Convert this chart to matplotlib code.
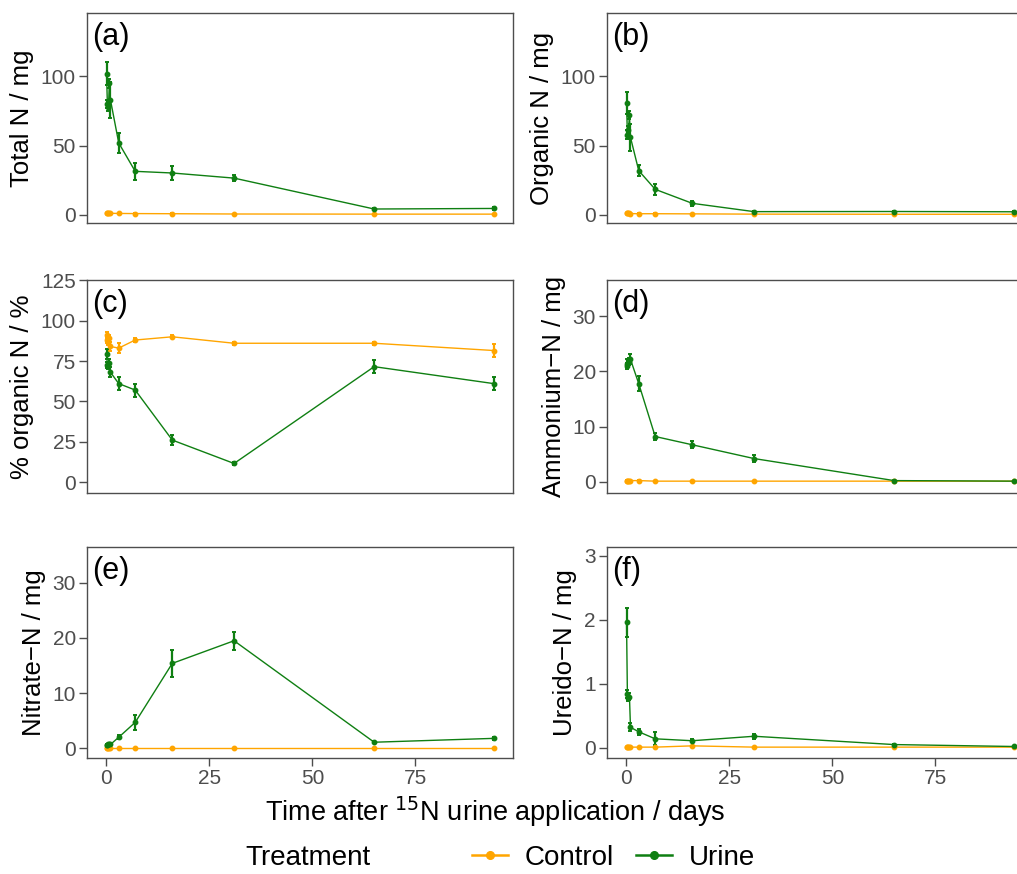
import numpy as np
import matplotlib
matplotlib.use("Agg")
import matplotlib.pyplot as plt
from matplotlib.lines import Line2D

plt.rcParams['font.family'] = ['Liberation Sans', 'DejaVu Sans']

# sampling days (first four are sub-day samplings)
days = [0.04, 0.25, 0.5, 0.75, 1, 3, 7, 16, 31, 65, 94]

total_urine = [102, 80, 78, 95, 83, 52, 31.5, 30.3, 26.6, 4.3, 4.7]
total_urine_se = [8.5, 3, 3, 3, 13, 7, 6, 5, 2, 0.8, 0.8]
total_ctrl = [1.5, 1.4, 1.4, 1.3, 1.2, 1.1, 1.0, 0.9, 0.7, 0.6, 0.6]
total_ctrl_se = [0.2] * 11

org_urine = [81, 58, 61, 72, 56, 32, 18.5, 8.4, 2.4, 2.5, 2.3]
org_urine_se = [8, 3, 3, 3, 10, 4, 4, 2, 0.5, 0.3, 0.3]
org_ctrl = [1.3, 1.2, 1.2, 1.1, 1.0, 0.9, 0.9, 0.8, 0.6, 0.5, 0.5]
org_ctrl_se = [0.2] * 11

pct_urine = [79.5, 72.5, 72, 74, 68, 61, 57, 26, 11.5, 71.5, 61]
pct_urine_se = [3, 2, 2, 2, 3, 4, 4, 3, 1, 4, 4]
pct_ctrl = [91, 88, 87, 89, 84, 83, 88, 90, 86, 86, 81.5]
pct_ctrl_se = [2, 2, 2, 2, 3, 3, 1.5, 1, 0.8, 1, 4]

nh4_urine = [21.4, 21, 21.5, 21.8, 22.2, 17.8, 8.2, 6.7, 4.2, 0.2, 0.1]
nh4_urine_se = [0.8, 0.6, 0.6, 0.6, 0.9, 1.3, 0.6, 0.6, 0.6, 0.1, 0.05]
nh4_ctrl = [0.2, 0.2, 0.2, 0.2, 0.2, 0.2, 0.1, 0.1, 0.1, 0.1, 0.1]
nh4_ctrl_se = [0.05] * 11

no3_urine = [0.6, 0.6, 0.7, 0.7, 0.7, 2.0, 4.7, 15.4, 19.5, 1.1, 1.8]
no3_urine_se = [0.2, 0.1, 0.1, 0.1, 0.2, 0.4, 1.3, 2.5, 1.6, 0.2, 0.3]
no3_ctrl = [0.1] * 11
no3_ctrl_se = [0.03] * 11

ure_urine = [1.96, 0.84, 0.78, 0.80, 0.32, 0.25, 0.14, 0.11, 0.18, 0.05, 0.02]
ure_urine_se = [0.23, 0.06, 0.05, 0.05, 0.06, 0.05, 0.1, 0.02, 0.04, 0.01, 0.01]
ure_ctrl = [0.01, 0.01, 0.01, 0.01, 0.01, 0.01, 0.01, 0.03, 0.01, 0.01, 0.01]
ure_ctrl_se = [0.005] * 11

ORANGE = '#FFA500'
GREEN = '#0F7F12'
W, H = 1017, 874

panels = [
    # label, ylabel, urine, urine se, ctrl, ctrl se, ylim, yticks, box (left, top, right, bottom) px
    ('(a)', 'Total N / mg', total_urine, total_urine_se, total_ctrl, total_ctrl_se,
     (-5.8, 145.8), [0, 50, 100], (87, 13, 513, 223)),
    ('(b)', 'Organic N / mg', org_urine, org_urine_se, org_ctrl, org_ctrl_se,
     (-5.8, 145.8), [0, 50, 100], (607, 13, 1033, 223)),
    ('(c)', '% organic N / %', pct_urine, pct_urine_se, pct_ctrl, pct_ctrl_se,
     (-6.8, 125.2), [0, 25, 50, 75, 100, 125], (87, 280, 513, 493)),
    ('(d)', 'Ammonium\u2212N / mg', nh4_urine, nh4_urine_se, nh4_ctrl, nh4_ctrl_se,
     (-2.05, 36.6), [0, 10, 20, 30], (607, 280, 1033, 493)),
    ('(e)', 'Nitrate\u2212N / mg', no3_urine, no3_urine_se, no3_ctrl, no3_ctrl_se,
     (-1.76, 36.5), [0, 10, 20, 30], (87, 547, 513, 758)),
    ('(f)', 'Ureido\u2212N / mg', ure_urine, ure_urine_se, ure_ctrl, ure_ctrl_se,
     (-0.16, 3.14), [0, 1, 2, 3], (607, 547, 1033, 758)),
]

fig = plt.figure(figsize=(W / 100, H / 100), dpi=100)

for i, (lab, ylab, u, use, c, cse, ylim, yt, box) in enumerate(panels):
    l, t, r, b = box
    ax = fig.add_axes([l / W, 1 - b / H, (r - l) / W, (b - t) / H])
    for vals, se, col in ((c, cse, ORANGE), (u, use, GREEN)):
        ax.errorbar(days, vals, yerr=se, color=col, lw=1.0, elinewidth=1.6,
                    capsize=1.6, capthick=1.4, marker='o', ms=3.2, zorder=3)
    ax.set_xlim(-4.7, 98.7)
    ax.set_ylim(*ylim)
    ax.set_yticks(yt)
    ax.set_xticks([0, 25, 50, 75])
    for s in ax.spines.values():
        s.set_color('#4D4D4D')
        s.set_linewidth(1.0)
    ax.tick_params(colors='#4D4D4D', labelcolor='#4D4D4D', labelsize=15,
                   length=6, width=1.0, pad=2)
    if i < 4:
        ax.tick_params(axis='x', labelbottom=False, bottom=False)
    ax.set_ylabel(ylab, fontsize=18.5, labelpad=5)
    ax.text(0.012, 0.885, lab, transform=ax.transAxes, fontsize=22,
            ha='left', va='center')

fig.text(495 / W, 1 - 812 / H, 'Time after $^{15}$N urine application / days',
         ha='center', va='center', fontsize=19.5)

fig.text(245 / W, 1 - 858 / H, 'Treatment', ha='left', va='center', fontsize=20)
handles = [Line2D([], [], color=ORANGE, marker='o', ms=5.5, lw=1.8),
           Line2D([], [], color=GREEN, marker='o', ms=5.5, lw=1.8)]
fig.legend(handles, ['Control', 'Urine'], loc='center left',
           bbox_to_anchor=(447 / W, 1 - 858 / H), ncol=2, frameon=False,
           fontsize=20, handlelength=1.3, handletextpad=0.6, columnspacing=0.8)

fig.savefig('out.png', dpi=100)
